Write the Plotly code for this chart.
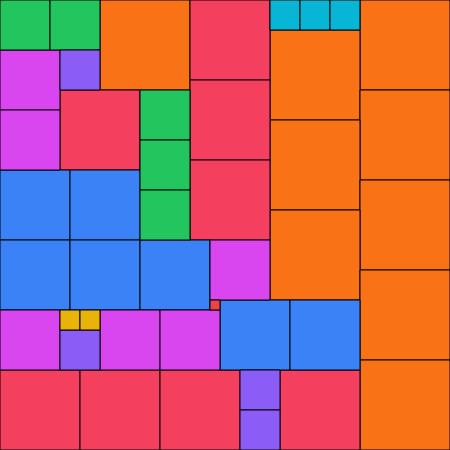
import plotly.graph_objects as go

# square groups: side length (grid units of 10px) and colour
sizes = [9, 8, 7, 6, 5, 4, 3, 2, 1]
colors = ["#f97316", "#f43f5e", "#3b82f6", "#d946ef", "#22c55e",
          "#8b5cf6", "#06b6d4", "#eab308", "#ef4444"]

# top-left grid cell of every square, per group
cols = [
    [10, 36, 27, 36, 27, 36, 27, 36, 36],
    [19, 19, 6, 19, 0, 8, 16, 28],
    [0, 7, 0, 7, 14, 22, 29],
    [0, 0, 21, 0, 10, 16],
    [0, 5, 14, 14, 14],
    [6, 6, 24, 24],
    [27, 30, 33],
    [6, 8],
    [21],
]
rows = [
    [0, 0, 3, 9, 12, 18, 21, 27, 36],
    [0, 8, 9, 16, 37, 37, 37, 37],
    [17, 17, 24, 24, 24, 30, 30],
    [5, 11, 24, 31, 31, 31],
    [0, 0, 9, 14, 19],
    [5, 33, 37, 41],
    [0, 0, 0],
    [31, 31],
    [30],
]

fig = go.Figure()
for s, c, xs, ys in zip(sizes, colors, cols, rows):
    fig.add_trace(go.Bar(
        x=[x + s / 2 for x in xs],
        y=[s] * len(xs),
        base=ys,
        width=[s] * len(xs),
        marker=dict(color=c, line=dict(color="#000000", width=1)),
        name=str(s),
        hoverinfo="skip",
    ))

fig.update_layout(
    width=450, height=450,
    margin=dict(l=0, r=0, t=0, b=0),
    barmode="overlay",
    showlegend=False,
    plot_bgcolor="white",
    paper_bgcolor="white",
    xaxis=dict(range=[0, 45], visible=False, fixedrange=True),
    yaxis=dict(range=[45, 0], visible=False, fixedrange=True),
)

# drop the page's default body margin so the chart fills the window
fig.write_html("out.html", config={"displayModeBar": False},
               post_script="document.body.style.margin='0';")
